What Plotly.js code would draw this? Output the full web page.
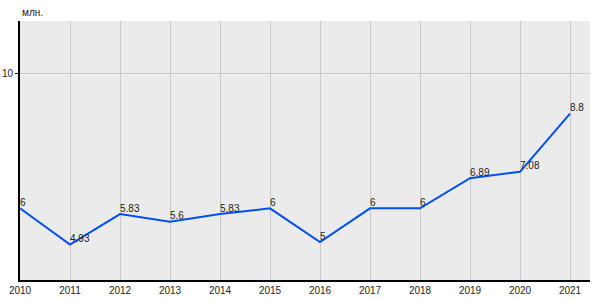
<!DOCTYPE html>
<html><head><meta charset="utf-8">
<script src="https://cdn.plot.ly/plotly-3.0.1.min.js"></script>
<style>html,body{margin:0;padding:0;background:#fff}</style>
</head><body>
<div id="chart" style="width:600px;height:300px"></div>
<script>
const years = [2010,2011,2012,2013,2014,2015,2016,2017,2018,2019,2020,2021];
const values = [6,4.93,5.83,5.6,5.83,6,5,6,6,6.89,7.08,8.8];
const labels = ["6","4.93","5.83","5.6","5.83","6","5","6","6","6.89","7.08","8.8"];
const yTicks = [10];
const unitLabel = "млн.";

Plotly.newPlot('chart', [{
  x: years, y: values, text: labels,
  type: 'scatter', mode: 'lines+text',
  textposition: 'top right',
  textfont: {family: 'Liberation Sans, Arial, sans-serif', size: 10, color: '#222'},
  line: {color: 'rgb(0,80,240)', width: 2},
  cliponaxis: false, hoverinfo: 'none'
}], {
  width: 600, height: 300,
  margin: {l: 20, r: 10, t: 21, b: 20, pad: 0},
  paper_bgcolor: '#ffffff', plot_bgcolor: '#ebebeb',
  showlegend: false,
  font: {family: 'Liberation Sans, Arial, sans-serif', size: 10, color: '#222'},
  xaxis: {range: [2010, 2021.4], tickmode: 'array', tickvals: years, ticktext: years.map(String),
    showgrid: true, gridcolor: '#c8c8c8', gridwidth: 1, zeroline: false,
    showline: true, linecolor: '#000', linewidth: 2, ticks: '', ticklen: 0,
    tickfont: {size: 10}},
  yaxis: {range: [3.88, 11.54], tickmode: 'array', tickvals: yTicks, ticktext: yTicks.map(String),
    showgrid: true, gridcolor: '#c8c8c8', gridwidth: 1, zeroline: false,
    showline: true, linecolor: '#000', linewidth: 2, ticks: 'outside', ticklen: 3, tickcolor: '#000',
    tickfont: {size: 10}},
  annotations: [{text: unitLabel, xref: 'paper', yref: 'paper', x: 0, y: 1, yshift: 1,
    xanchor: 'left', yanchor: 'bottom', showarrow: false, font: {size: 10, color: '#222'}}]
}, {staticPlot: true});
</script>
</body></html>
